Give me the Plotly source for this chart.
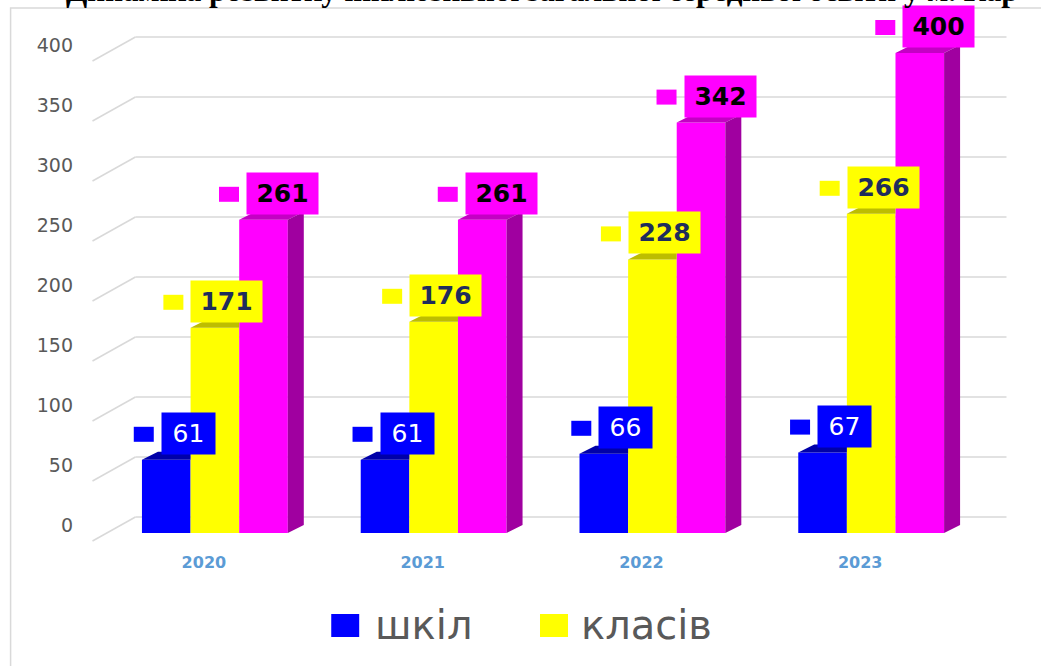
import plotly.graph_objects as go

# ---------------- data ----------------
years = ["2020", "2021", "2022", "2023"]
schools = [61, 61, 66, 67]        # шкіл
classes = [171, 176, 228, 266]    # класів
pupils = [261, 261, 342, 400]     # учнів
series_names = ["шкіл", "класів", "учнів"]
y_ticks = [0, 50, 100, 150, 200, 250, 300, 350, 400]
title_text = "Динаміка розвитку інклюзивної загальної середньої освіти у м. Кар"

# ---------------- layout geometry ----------------
W, H = 1041, 666
M_L, M_R, M_T, M_B = 87.5, 31.5, 20, 115
X_RANGE = [-0.58, 3.63]
Y_RANGE = [-15, 427.5]
plot_w = W - M_L - M_R
plot_h = H - M_T - M_B
px_x = plot_w / (X_RANGE[1] - X_RANGE[0])
px_y = plot_h / (Y_RANGE[1] - Y_RANGE[0])

def pxp(px):
    return (px - M_L) / plot_w

def pyp(py):
    return (H - M_B - py) / plot_h

GROUP = 2 / 3
BW = GROUP / 3
DX = 16 / px_x   # depth offset of the bars (x)
DY = 8 / px_y    # depth offset of the bars (y)

styles = [
    dict(front="#0000FF", top="#0000A8", side="#0000A0", txt="#FFFFFF", weight="normal", shift=22),
    dict(front="#FFFF00", top="#BDBD00", side="#A8A800", txt="#1F2D5C", weight="bold", shift=12),
    dict(front="#FF00FF", top="#C400C4", side="#A000A0", txt="#000000", weight="bold", shift=19),
]
all_series = [schools, classes, pupils]

fig = go.Figure()
shapes = []
annotations = []

# gridlines (floor/back wall style)
for v in y_ticks:
    shapes.append(dict(type="line", xref="x", yref="y", ysizemode="pixel", yanchor=v,
                       x0=(92 - M_L) / px_x + X_RANGE[0], x1=(135 - M_L) / px_x + X_RANGE[0],
                       y0=-8, y1=16, line=dict(color="#D9D9D9", width=1.5), layer="below"))
    shapes.append(dict(type="line", xref="x", yref="y", ysizemode="pixel", yanchor=v,
                       x0=(135 - M_L) / px_x + X_RANGE[0], x1=(1007 - M_L) / px_x + X_RANGE[0],
                       y0=16, y1=16, line=dict(color="#D9D9D9", width=1.5), layer="below"))

for k, (vals, st, name) in enumerate(zip(all_series, styles, series_names)):
    xs = [i + (k - 1) * BW for i in range(len(years))]
    fig.add_trace(go.Bar(x=xs, y=vals, width=BW, name=name, showlegend=False,
                         marker=dict(color=st["front"], line=dict(width=0))))
    tx, ty = [], []
    sx, sy = [], []
    for xc, v in zip(xs, vals):
        xl, xr = xc - BW / 2, xc + BW / 2
        if k < 2:
            tx += [xl, xl + DX, xr, xr, xl, None]
            ty += [v, v + DY, v + DY, v, v, None]
        else:
            tx += [xl, xl + DX, xr + DX, xr, xl, None]
            ty += [v, v + DY, v + DY, v, v, None]
            sx += [xr, xr + DX, xr + DX, xr, xr, None]
            sy += [0, DY, v + DY, v, 0, None]
    fig.add_trace(go.Scatter(x=tx, y=ty, mode="lines", fill="toself", fillcolor=st["top"],
                             line=dict(width=0), showlegend=False, hoverinfo="skip"))
    if sx:
        fig.add_trace(go.Scatter(x=sx, y=sy, mode="lines", fill="toself", fillcolor=st["side"],
                                 line=dict(width=0), showlegend=False, hoverinfo="skip"))
    for xc, v in zip(xs, vals):
        txt = str(v)
        bw = 71 if len(txt) == 3 else 53
        annotations.append(dict(x=xc, y=v, xref="x", yref="y", xanchor="center", yanchor="bottom",
                                xshift=st["shift"], yshift=5, text=txt, showarrow=False,
                                bgcolor=st["front"], borderpad=4, width=bw - 8, height=33,
                                font=dict(family="DejaVu Sans", size=25, color=st["txt"],
                                          weight=st["weight"])))
        sl = st["shift"] - bw / 2 - 8
        shapes.append(dict(type="rect", xref="x", yref="y", xsizemode="pixel", xanchor=xc,
                           x0=sl - 20, x1=sl, ysizemode="pixel", yanchor=v,
                           y0=5 + 20.5 - 7.5, y1=5 + 20.5 + 7.5,
                           fillcolor=st["front"], line=dict(width=0), layer="above"))

# outer frame
shapes.append(dict(type="rect", xref="paper", yref="paper",
                   x0=pxp(10), x1=pxp(1060), y0=pyp(690), y1=pyp(8),
                   line=dict(color="#D9D9D9", width=1.5), fillcolor="rgba(0,0,0,0)", layer="below"))

# manual legend
leg_items = [(331, 376, styles[0]["front"], series_names[0]),
             (540, 582, styles[1]["front"], series_names[1])]
for sx0, tx0, col, name in leg_items:
    shapes.append(dict(type="rect", xref="paper", yref="paper",
                       x0=pxp(sx0), x1=pxp(sx0 + 28), y0=pyp(637), y1=pyp(614),
                       fillcolor=col, line=dict(width=0)))
    annotations.append(dict(x=pxp(tx0 - 3), y=pyp(625), xref="paper", yref="paper",
                            xanchor="left", yanchor="middle", text=name, showarrow=False,
                            font=dict(family="DejaVu Sans", size=40, color="#595959")))

# title (cut off at the top of the page)
annotations.append(dict(x=pxp(63), y=pyp(10), xref="paper", yref="paper", xanchor="left",
                        yanchor="bottom", text=title_text, showarrow=False,
                        font=dict(family="Liberation Serif", size=31, color="#000000", weight="bold")))

fig.update_layout(
    width=W, height=H,
    margin=dict(l=M_L, r=M_R, t=M_T, b=M_B, pad=0),
    paper_bgcolor="white", plot_bgcolor="white",
    barmode="overlay",
    showlegend=False,
    shapes=shapes, annotations=annotations,
    xaxis=dict(range=X_RANGE, tickvals=list(range(len(years))), ticktext=years,
               showgrid=False, zeroline=False, showline=False, ticks="",
               ticklabelshift=-11,
               tickfont=dict(family="DejaVu Sans", size=16, color="#5B9BD5", weight="bold")),
    yaxis=dict(range=Y_RANGE, tickvals=y_ticks, showgrid=False, zeroline=False, showline=False,
               ticks="", ticklabelshift=-8, ticklabelstandoff=14,
               tickfont=dict(family="DejaVu Sans", size=19, color="#595959")),
)

fig.write_html("out.html", config={"displayModeBar": False},
               post_script="document.body.style.margin='0px';")
